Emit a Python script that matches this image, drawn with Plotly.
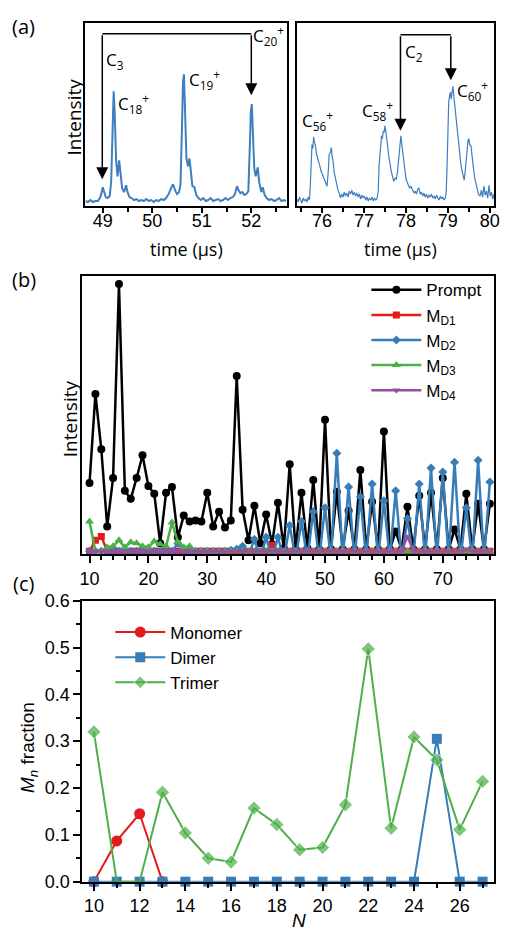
import plotly.graph_objects as go

# The page adds an 8px body margin; the shot comes out ~1% smaller, so positions are pre-scaled.
OFF = 8
W, H = 492, 926
S = 0.989

def px(x):
    return min(1.0, max(0.0, (x - OFF) / S / W))

def py(y):
    return min(1.0, max(0.0, 1 - (y - OFF) / S / H))

# ---------------- Panel (a): spectra ----------------
left_time = [48.65, 48.70, 48.75, 48.80, 48.85, 48.90, 48.94, 48.97, 49.00, 49.03, 49.06, 49.10, 49.14, 49.17,
             49.20, 49.22, 49.24, 49.27, 49.30, 49.33, 49.36, 49.39, 49.43, 49.47, 49.50, 49.54, 49.58, 49.63,
             49.68, 49.73, 49.78, 49.83, 49.88, 49.93, 49.98, 50.03, 50.08, 50.13, 50.18, 50.23, 50.28, 50.33,
             50.38, 50.42, 50.46, 50.50, 50.54, 50.57, 50.60, 50.62, 50.64, 50.66, 50.69, 50.72, 50.75, 50.78,
             50.81, 50.85, 50.89, 50.93, 50.98, 51.03, 51.08, 51.13, 51.18, 51.23, 51.28, 51.33, 51.38, 51.43,
             51.48, 51.53, 51.58, 51.63, 51.67, 51.71, 51.74, 51.78, 51.82, 51.86, 51.90, 51.94, 51.97, 51.99,
             52.01, 52.03, 52.06, 52.09, 52.13, 52.16, 52.20, 52.23, 52.27, 52.31, 52.36, 52.41, 52.46, 52.51,
             52.56, 52.61, 52.66, 52.70]
left_intensity = [5, 4, 6, 4, 5, 5, 8, 12, 19, 14, 9, 8, 10, 25,
                  80, 116, 95, 45, 30, 46, 33, 18, 14, 21, 14, 9, 8, 6,
                  7, 5, 6, 5, 7, 5, 6, 4, 6, 5, 7, 6, 8, 12,
                  18, 22, 16, 12, 14, 22, 80, 125, 133, 100, 48, 40, 48, 35,
                  20, 19, 11, 8, 6, 8, 5, 6, 8, 5, 6, 7, 5, 6,
                  8, 6, 8, 9, 12, 20, 16, 13, 14, 11, 12, 15, 60, 95,
                  103, 80, 38, 30, 39, 24, 14, 19, 11, 8, 6, 7, 5, 6,
                  8, 5, 6, 5]

right_time = [75.40, 75.43, 75.46, 75.49, 75.52, 75.55, 75.58, 75.61, 75.64, 75.67, 75.70, 75.72, 75.74, 75.76,
              75.78, 75.80, 75.82, 75.84, 75.87, 75.90, 75.92, 75.95, 75.97, 76.00, 76.03, 76.06, 76.09, 76.12,
              76.15, 76.17, 76.20, 76.22, 76.24, 76.26, 76.29, 76.32, 76.35, 76.38, 76.41, 76.44, 76.47, 76.50,
              76.53, 76.56, 76.59, 76.62, 76.65, 76.68, 76.71, 76.74, 76.77, 76.80, 76.83, 76.86, 76.89, 76.92,
              76.95, 76.98, 77.01, 77.04, 77.07, 77.10, 77.13, 77.16, 77.19, 77.22, 77.25, 77.28, 77.31, 77.34,
              77.36, 77.39, 77.42, 77.44, 77.46, 77.48, 77.50, 77.52, 77.54, 77.56, 77.59, 77.62, 77.65, 77.68,
              77.71, 77.74, 77.77, 77.80, 77.82, 77.84, 77.86, 77.88, 77.90, 77.92, 77.94, 77.97, 78.00, 78.03,
              78.06, 78.09, 78.12, 78.16, 78.19, 78.22, 78.25, 78.28, 78.31, 78.34, 78.37, 78.40, 78.43, 78.46,
              78.49, 78.52, 78.55, 78.58, 78.61, 78.64, 78.67, 78.70, 78.73, 78.76, 78.79, 78.82, 78.85, 78.88,
              78.91, 78.94, 78.96, 78.98, 79.00, 79.02, 79.04, 79.06, 79.08, 79.10, 79.12, 79.14, 79.16, 79.18,
              79.20, 79.22, 79.25, 79.28, 79.31, 79.34, 79.37, 79.39, 79.42, 79.44, 79.46, 79.48, 79.50, 79.52,
              79.55, 79.58, 79.61, 79.65, 79.69, 79.73, 79.77, 79.80, 79.83, 79.86, 79.89, 79.92, 79.95, 79.98,
              80.01, 80.04, 80.07, 80.10]
right_intensity = [7, 4, 9, 6, 3, 8, 5, 7, 4, 9, 6, 20, 45, 62,
                   58, 70, 64, 62, 52, 48, 44, 40, 36, 33, 29, 26, 24, 20,
                   36, 52, 54, 59, 50, 46, 34, 27, 22, 16, 13, 8, 12, 9,
                   14, 10, 13, 9, 15, 12, 16, 11, 14, 10, 13, 9, 12, 7,
                   11, 8, 10, 6, 9, 5, 8, 6, 9, 5, 8, 6, 7, 15,
                   41, 62, 71, 68, 76, 74, 81, 76, 71, 62, 51, 42, 35, 30,
                   25, 28, 27, 35, 46, 58, 64, 71, 63, 55, 45, 35, 28, 24,
                   21, 18, 20, 16, 13, 15, 12, 17, 18, 12, 14, 10, 13, 9,
                   12, 8, 11, 9, 12, 8, 10, 7, 11, 8, 6, 10, 7, 9,
                   6, 8, 14, 38, 80, 105, 111, 115, 108, 116, 121, 112, 104, 96,
                   85, 76, 62, 52, 42, 35, 29, 26, 38, 51, 60, 66, 68, 62,
                   61, 48, 38, 26, 18, 12, 10, 16, 9, 20, 11, 15, 8, 21,
                   10, 14, 7, 12]

# ---------------- Panel (b): intensities vs N ----------------
N_b = [10, 11, 12, 13, 14, 15, 16, 17, 18, 19, 20, 21, 22, 23, 24, 25, 26, 27, 28, 29,
       30, 31, 32, 33, 34, 35, 36, 37, 38, 39, 40, 41, 42, 43, 44, 45, 46, 47, 48, 49,
       50, 51, 52, 53, 54, 55, 56, 57, 58, 59, 60, 61, 62, 63, 64, 65, 66, 67, 68, 69,
       70, 71, 72, 73, 74, 75, 76, 77, 78]
prompt = [69, 159, 103, 25, 74, 270, 61, 53, 74, 97, 66, 58, 8, 59, 65, 14, 36, 30, 31, 30,
          59, 25, 40, 24, 31, 177, 42, 11, 46, 8, 37, 7, 49, 3, 88, 2, 59, 3, 72, 2,
          133, 2, 60, 2, 41, 2, 82, 2, 50, 2, 121, 2, 20, 2, 45, 2, 56, 2, 59, 2,
          74, 2, 22, 2, 58, 2, 48, 2, 48]
md1 = [0, 11, 15, 0, 0, 0, 0, 0, 0, 0, 0, 0, 0, 0, 0, 0, 0, 0, 0, 0,
       0, 0, 0, 0, 0, 0, 0, 0, 0, 0, 0, 6, 0, 0, 0, 0, 0, 0, 0, 0,
       0, 0, 0, 0, 0, 0, 0, 0, 0, 0, 0, 0, 0, 0, 0, 0, 0, 0, 0, 0,
       0, 0, 0, 0, 0, 0, 0, 0, 0]
md2 = [0, 0, 0, 0, 0, 0, 0, 0, 0, 0, 0, 0, 0, 0, 0, 8, 0, 0, 0, 0,
       0, 0, 0, 0, 1, 2, 5, -4, 12, -8, 14, -8, 14, -8, 26, -8, 30, -8, 40, -8,
       44, -8, 99, -8, 65, -8, 55, -8, 68, -8, 51, -8, 61, -8, 33, -8, 68, -8, 84, -8,
       80, -8, 90, -8, 44, -8, 92, -8, 70]
md3 = [30, 0, 0, 4, 5, 11, 4, 9, 8, 5, 4, 10, 7, 5, 29, 9, 4, 5, 0, 0,
       0, 0, 0, 0, 0, 0, 0, 0, 0, 0, 0, 0, 0, 0, 0, 0, 0, 0, 0, 0,
       0, 0, 0, 0, 0, 0, 0, 0, 0, 0, 0, 0, 0, 0, 0, 0, 0, 0, 0, 0,
       0, 0, 0, 0, 0, 0, 0, 0, 0]
md4 = [0, 0, 0, 0, 0, 0, 0, 0, 0, 0, 0, 0, 0, 0, 0, 0, 0, 0, 0, 0,
       0, 0, 0, 0, 0, 0, 0, 0, 0, 0, 0, 0, 0, 0, 0, 0, 0, 0, 0, 0,
       0, 0, 0, 0, 0, 0, 0, 0, 0, 0, 0, 0, 0, 0, 15, 0, 0, 0, 0, 0,
       0, 0, 0, 0, 2, 0, 0, 0, 0]

# ---------------- Panel (c): fractions ----------------
N_c = [10, 11, 12, 13, 14, 15, 16, 17, 18, 19, 20, 21, 22, 23, 24, 25, 26, 27]
N_mono = [10, 11, 12, 13]
monomer = [0, 0.087, 0.145, 0]
dimer = [0, 0, 0, 0, 0, 0, 0, 0, 0, 0, 0, 0, 0, 0, 0, 0.305, 0, 0]
trimer = [0.32, 0, 0, 0.191, 0.104, 0.050, 0.042, 0.157, 0.122, 0.068, 0.073, 0.164,
          0.497, 0.114, 0.309, 0.260, 0.111, 0.214]

BLACK = "#000000"
RED = "#e41a1c"
BLUE = "#377eb8"
GREEN = "#4daf4a"
PURPLE = "#984ea3"
SPEC = "#3d7fbf"

SANS = "Liberation Sans, Arial, sans-serif"
OPEN = "Open Sans, Liberation Sans, sans-serif"

fig = go.Figure()

# Panel (a)
fig.add_trace(go.Scatter(x=left_time, y=left_intensity, mode="lines", line=dict(color=SPEC, width=2),
                         xaxis="x", yaxis="y", showlegend=False))
fig.add_trace(go.Scatter(x=right_time, y=right_intensity, mode="lines", line=dict(color=SPEC, width=1.2),
                         xaxis="x2", yaxis="y2", showlegend=False))

# Panel (b)
fig.add_trace(go.Scatter(x=N_b, y=prompt, name="Prompt", mode="lines+markers",
                         line=dict(color=BLACK, width=2.5), marker=dict(symbol="circle", size=8, color=BLACK),
                         xaxis="x3", yaxis="y3", legend="legend"))
fig.add_trace(go.Scatter(x=N_b, y=md1, name="M<sub>D1</sub>", mode="lines+markers",
                         line=dict(color=RED, width=2.5), marker=dict(symbol="square", size=7, color=RED),
                         xaxis="x3", yaxis="y3", legend="legend"))
fig.add_trace(go.Scatter(x=N_b, y=md2, name="M<sub>D2</sub>", mode="lines+markers",
                         line=dict(color=BLUE, width=2.5), marker=dict(symbol="diamond", size=7, color=BLUE),
                         xaxis="x3", yaxis="y3", legend="legend"))
fig.add_trace(go.Scatter(x=N_b, y=md3, name="M<sub>D3</sub>", mode="lines+markers",
                         line=dict(color=GREEN, width=2.5), marker=dict(symbol="triangle-up", size=8, color=GREEN),
                         xaxis="x3", yaxis="y3", legend="legend"))
fig.add_trace(go.Scatter(x=N_b, y=md4, name="M<sub>D4</sub>", mode="lines+markers",
                         line=dict(color=PURPLE, width=2.5), marker=dict(symbol="triangle-down", size=7, color=PURPLE),
                         xaxis="x3", yaxis="y3", legend="legend"))

# Panel (c)
fig.add_trace(go.Scatter(x=N_mono, y=monomer, name="Monomer", mode="lines+markers", legendrank=1,
                         line=dict(color=RED, width=2), marker=dict(symbol="circle", size=11, color=RED),
                         xaxis="x4", yaxis="y4", legend="legend2", cliponaxis=False))
fig.add_trace(go.Scatter(x=N_c, y=dimer, name="Dimer", mode="lines+markers", legendrank=2,
                         line=dict(color=BLUE, width=2), marker=dict(symbol="square", size=10, color=BLUE),
                         xaxis="x4", yaxis="y4", legend="legend2", cliponaxis=False))
trimer_sizes = [11 if v > 0 else 0 for v in trimer]
fig.add_trace(go.Scatter(x=N_c, y=trimer, name="Trimer", mode="lines+markers", legendrank=3,
                         line=dict(color=GREEN, width=2),
                         marker=dict(symbol="diamond", size=trimer_sizes, color=GREEN),
                         xaxis="x4", yaxis="y4", legend="legend2", cliponaxis=False))

frame = dict(showline=True, linewidth=2, linecolor="black", mirror=True, showgrid=False, zeroline=False)

def xax(domain, anchor, rng, tick0, dtick, mtick0, mdtick, ticklen=7, standoff=0):
    d = dict(frame)
    d.update(domain=domain, anchor=anchor, range=rng, tickmode="linear", tick0=tick0, dtick=dtick,
             ticks="outside", ticklen=ticklen, tickwidth=1.5, tickcolor="black", ticklabelstandoff=standoff,
             ticklabeloverflow="allow",
             tickfont=dict(family=SANS, size=18, color="black"),
             minor=dict(tick0=mtick0, dtick=mdtick, ticks="outside", ticklen=4, tickwidth=1.5,
                        tickcolor="black", showgrid=False))
    return d

layout = dict(
    width=W, height=H, margin=dict(l=0, r=0, t=0, b=0),
    paper_bgcolor="white", plot_bgcolor="white",
    font=dict(family=SANS, color="black"),
)

layout["xaxis"] = xax([px(83), px(286)], "y", [48.65, 52.72], 49, 1, 48.5, 0.5, 5, -8)
layout["xaxis2"] = xax([px(296), px(502)], "y2", [75.4, 80.1], 76, 1, 75.5, 0.5, 5, -8)
layout["xaxis3"] = xax([px(80), px(502)], "y3", [8.8, 78.7], 10, 10, 10, 2)
layout["xaxis4"] = xax([px(80), px(503)], "y4", [9.5, 27.5], 10, 2, 10, 1)

ynone = dict(frame)
ynone.update(showticklabels=False, ticks="")
ya = dict(ynone); ya.update(domain=[py(198), py(13)], anchor="x", range=[0, 185])
ya2 = dict(ynone); ya2.update(domain=[py(198), py(13)], anchor="x2", range=[0, 185])
yb = dict(ynone); yb.update(domain=[py(550), py(269)], anchor="x3", range=[-3, 278])
yc = dict(frame)
yc.update(domain=[py(881), py(597)], anchor="x4", range=[0, 0.6], tickmode="linear", tick0=0, dtick=0.1,
          tickformat=".1f", ticks="outside", ticklen=7, tickwidth=1.5, tickcolor="black",
          tickfont=dict(family=SANS, size=18, color="black"),
          minor=dict(tick0=0, dtick=0.05, ticks="outside", ticklen=4, tickwidth=1.5, tickcolor="black",
                     showgrid=False))
layout["yaxis"] = ya
layout["yaxis2"] = ya2
layout["yaxis3"] = yb
layout["yaxis4"] = yc

layout["legend"] = dict(x=px(366), y=py(265), xanchor="left", yanchor="top", bgcolor="rgba(0,0,0,0)",
                        font=dict(family=SANS, size=17, color="black"), tracegroupgap=0, itemwidth=50)
layout["legend2"] = dict(x=px(108), y=py(611), xanchor="left", yanchor="top", bgcolor="rgba(0,0,0,0)",
                         font=dict(family=SANS, size=17, color="black"), tracegroupgap=0, itemwidth=50)

fig.update_layout(**layout)

# Brackets and arrows in panel (a)
LW = 1.5
shapes = [
    dict(type="line", xref="x", yref="y", x0=48.99, x1=52.0, y0=174, y1=174, line=dict(color="black", width=LW)),
    dict(type="line", xref="x2", yref="y2", x0=77.87, x1=79.07, y0=173, y1=173, line=dict(color="black", width=LW)),
]
fig.update_layout(shapes=shapes)

def arrow(xr, yr, x, y0, y1):
    return dict(xref=xr, yref=yr, axref=xr, ayref=yr, x=x, y=y1, ax=x, ay=y0, text="",
                showarrow=True, arrowhead=2, arrowsize=1.6, arrowwidth=LW, arrowcolor="black", standoff=0)

def label(xr, yr, x, y, text, size=17, fam=OPEN):
    return dict(xref=xr, yref=yr, x=x, y=y, text=text, showarrow=False, xanchor="left", yanchor="middle",
                font=dict(family=fam, size=size, color="black"))

def plabel(xp, yp, text, size=19, angle=0, fam=OPEN):
    return dict(xref="paper", yref="paper", x=px(xp), y=py(yp), text=text, showarrow=False,
                xanchor="center", yanchor="middle", textangle=angle,
                font=dict(family=fam, size=size, color="black"))

ann = [
    arrow("x", "y", 48.99, 174, 27),
    arrow("x", "y", 52.0, 174, 112),
    arrow("x2", "y2", 77.87, 173, 76),
    arrow("x2", "y2", 79.07, 173, 127),
    label("x", "y", 49.02, 147, "C<sub>3</sub>"),
    label("x", "y", 49.27, 104, "C<sub>18</sub><sup>+</sup>"),
    label("x", "y", 50.70, 128, "C<sub>19</sub><sup>+</sup>"),
    label("x", "y", 52.0, 172, "C<sub>20</sub><sup>+</sup>"),
    label("x2", "y2", 77.92, 155, "C<sub>2</sub>"),
    label("x2", "y2", 75.48, 86, "C<sub>56</sub><sup>+</sup>"),
    label("x2", "y2", 76.90, 96, "C<sub>58</sub><sup>+</sup>"),
    label("x2", "y2", 79.17, 117, "C<sub>60</sub><sup>+</sup>"),
    plabel(21, 17, "(a)", 20),
    plabel(21, 272, "(b)", 20),
    plabel(21, 580, "(c)", 20),
    plabel(185, 242, "time (μs)", 18),
    plabel(400, 242, "time (μs)", 18),
    plabel(71, 108, "Intensity", 19, -90),
    plabel(67, 413, "Intensity", 19, -90),
    plabel(26, 745, "<i>M</i><sub><i>n</i></sub> fraction", 19, -90, SANS),
    plabel(298, 920, "<i>N</i>", 19, 0, SANS),
]
fig.update_layout(annotations=ann)

fig.write_html("out.html")
